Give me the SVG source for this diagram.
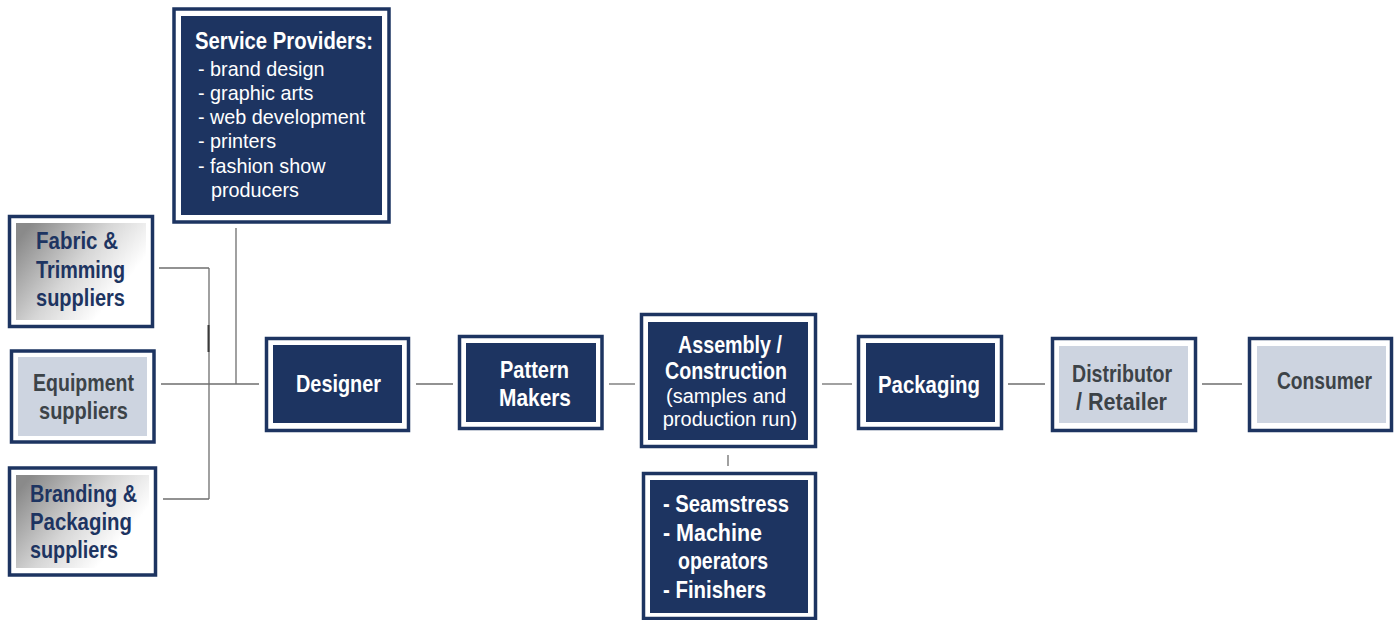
<svg xmlns="http://www.w3.org/2000/svg" width="1399" height="620" viewBox="0 0 1399 620">
<defs>
<linearGradient id="grey" x1="0" y1="0.2" x2="1" y2="0.8">
<stop offset="0" stop-color="#8a8a8a"/>
<stop offset="0.45" stop-color="#d6d6d6"/>
<stop offset="0.8" stop-color="#ffffff"/>
<stop offset="1" stop-color="#ffffff"/>
</linearGradient>
</defs>
<style>
.outer{fill:#ffffff;stroke:#1d3461;stroke-width:3.5}
.navy{fill:#1d3461}
.light{fill:#cdd4e0}
.grad{fill:url(#grey)}
.b{font-family:"Liberation Sans",Arial,sans-serif;font-weight:bold;font-size:24px}
.r{font-family:"Liberation Sans",Arial,sans-serif;font-size:19.8px;fill:#ffffff}
.w{fill:#ffffff}
.nt{fill:#1d3461}
.gt{fill:#3c4348}
.m{text-anchor:middle}
.ln{stroke:#6e6e6e;stroke-width:1.3;fill:none}
</style>
<rect width="1399" height="620" fill="#ffffff"/>
<g id="connectors">
<line class="ln" x1="159" y1="268" x2="209" y2="268"/>
<line class="ln" x1="209" y1="268" x2="209" y2="499"/>
<line class="ln" x1="163" y1="499" x2="209" y2="499"/>
<line x1="208.5" y1="325" x2="208.5" y2="352" stroke="#3a3a3a" stroke-width="2"/>
<line class="ln" x1="161" y1="384" x2="259" y2="384"/>
<line class="ln" x1="236" y1="228" x2="236" y2="384"/>
<line class="ln" x1="416" y1="384" x2="453" y2="384"/>
<line class="ln" x1="609" y1="384" x2="635" y2="384"/>
<line class="ln" x1="822" y1="384" x2="852" y2="384"/>
<line class="ln" x1="1008" y1="384" x2="1045" y2="384"/>
<line class="ln" x1="1202" y1="384" x2="1242" y2="384"/>
<line class="ln" x1="728" y1="455" x2="728" y2="466"/>
</g>
<g id="service-providers">
<rect class="outer" x="174" y="9" width="215" height="213"/>
<rect class="navy" x="181" y="16" width="201" height="199"/>
<text class="b w" x="195" y="49" textLength="178" lengthAdjust="spacingAndGlyphs">Service Providers:</text>
<text class="r" x="198" y="76">- brand design</text>
<text class="r" x="198" y="100">- graphic arts</text>
<text class="r" x="198" y="124">- web development</text>
<text class="r" x="198" y="148">- printers</text>
<text class="r" x="198" y="173">- fashion show</text>
<text class="r" x="211" y="197">producers</text>
</g>
<g id="fabric">
<rect class="outer" x="9.5" y="216.5" width="143" height="110"/>
<rect class="grad" x="16" y="223" width="130" height="97"/>
<text class="b nt" x="36" y="249" textLength="82" lengthAdjust="spacingAndGlyphs">Fabric &amp;</text>
<text class="b nt" x="36" y="278" textLength="89" lengthAdjust="spacingAndGlyphs">Trimming</text>
<text class="b nt" x="36" y="306" textLength="89" lengthAdjust="spacingAndGlyphs">suppliers</text>
</g>
<g id="equipment">
<rect class="outer" x="11.5" y="351" width="142.5" height="91"/>
<rect class="light" x="18" y="357" width="129" height="79"/>
<text class="b gt" x="33" y="391" textLength="101" lengthAdjust="spacingAndGlyphs">Equipment</text>
<text class="b gt" x="39" y="419" textLength="89" lengthAdjust="spacingAndGlyphs">suppliers</text>
</g>
<g id="branding">
<rect class="outer" x="9.5" y="468" width="146" height="107"/>
<rect class="grad" x="16" y="475" width="133" height="93"/>
<text class="b nt" x="30" y="502" textLength="107" lengthAdjust="spacingAndGlyphs">Branding &amp;</text>
<text class="b nt" x="30" y="530" textLength="102" lengthAdjust="spacingAndGlyphs">Packaging</text>
<text class="b nt" x="30" y="558" textLength="88" lengthAdjust="spacingAndGlyphs">suppliers</text>
</g>
<g id="designer">
<rect class="outer" x="266.5" y="338.5" width="142" height="92"/>
<rect class="navy" x="273" y="345" width="129" height="78"/>
<text class="b w" x="296" y="392" textLength="85" lengthAdjust="spacingAndGlyphs">Designer</text>
</g>
<g id="pattern-makers">
<rect class="outer" x="459.5" y="336.5" width="142.5" height="92"/>
<rect class="navy" x="466" y="343" width="130" height="79"/>
<text class="b w" x="500" y="378" textLength="69" lengthAdjust="spacingAndGlyphs">Pattern</text>
<text class="b w" x="499" y="406" textLength="72" lengthAdjust="spacingAndGlyphs">Makers</text>
</g>
<g id="assembly">
<rect class="outer" x="641.5" y="314.5" width="174" height="132"/>
<rect class="navy" x="648" y="322" width="160" height="118"/>
<text class="b w" x="678" y="353" textLength="104" lengthAdjust="spacingAndGlyphs">Assembly /</text>
<text class="b w" x="665" y="379" textLength="122" lengthAdjust="spacingAndGlyphs">Construction</text>
<text class="r m" x="726" y="403" style="font-size:20px">(samples and</text>
<text class="r m" x="730" y="426" style="font-size:20px">production run)</text>
</g>
<g id="workers">
<rect class="outer" x="643.5" y="473.5" width="172" height="145"/>
<rect class="navy" x="650" y="480" width="158" height="133"/>
<text class="b w" x="663" y="512" textLength="126" lengthAdjust="spacingAndGlyphs">- Seamstress</text>
<text class="b w" x="663" y="541" textLength="99" lengthAdjust="spacingAndGlyphs">- Machine</text>
<text class="b w" x="678" y="569" textLength="90" lengthAdjust="spacingAndGlyphs">operators</text>
<text class="b w" x="663" y="598" textLength="103" lengthAdjust="spacingAndGlyphs">- Finishers</text>
</g>
<g id="packaging">
<rect class="outer" x="858.5" y="336.5" width="143" height="92"/>
<rect class="navy" x="866" y="343" width="129" height="79"/>
<text class="b w" x="878" y="393" textLength="102" lengthAdjust="spacingAndGlyphs">Packaging</text>
</g>
<g id="distributor">
<rect class="outer" x="1052.5" y="338.5" width="143" height="92"/>
<rect class="light" x="1059" y="346" width="129" height="77"/>
<text class="b gt" x="1072" y="382" textLength="100" lengthAdjust="spacingAndGlyphs">Distributor</text>
<text class="b gt" x="1076" y="410" textLength="91" lengthAdjust="spacingAndGlyphs">/ Retailer</text>
</g>
<g id="consumer">
<rect class="outer" x="1249.5" y="338.5" width="142" height="92"/>
<rect class="light" x="1257" y="346" width="129" height="77"/>
<text class="b gt" x="1277" y="389" textLength="95" lengthAdjust="spacingAndGlyphs">Consumer</text>
</g>
</svg>
